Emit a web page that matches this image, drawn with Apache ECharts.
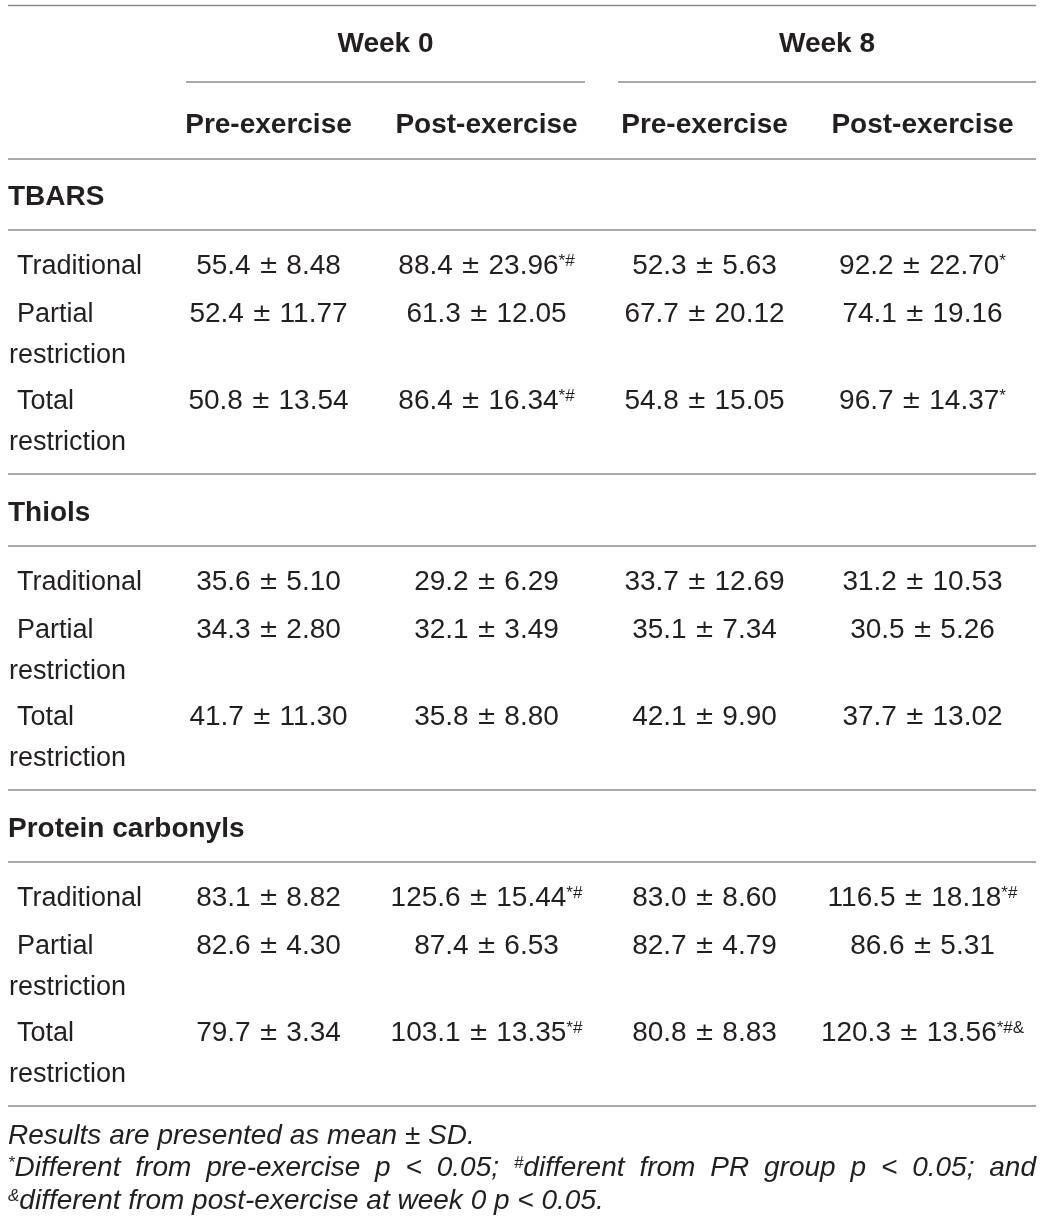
<!DOCTYPE html>
<html>
<head>
<meta charset="utf-8">
<script src="https://cdn.jsdelivr.net/npm/echarts@6/dist/echarts.min.js"></script>
<style>
  html, body { margin: 0; padding: 0; background: #fff; }
  #chart { width: 1044px; height: 1229px; }
</style>
</head>
<body>
<div id="chart"></div>
<script>
// ---- table content ----
const weeks = ['Week 0', 'Week 8'];
const phases = ['Pre-exercise', 'Post-exercise', 'Pre-exercise', 'Post-exercise'];
const columns = ['w0-pre', 'w0-post', 'w8-pre', 'w8-post'];
const markers = ['TBARS', 'Thiols', 'Protein carbonyls'];
const groupLabels = [['Traditional'], ['Partial', 'restriction'], ['Total', 'restriction']];

const tbarsMean = [[55.4, 88.4, 52.3, 92.2], [52.4, 61.3, 67.7, 74.1], [50.8, 86.4, 54.8, 96.7]];
const tbarsSd = [[8.48, 23.96, 5.63, 22.70], [11.77, 12.05, 20.12, 19.16], [13.54, 16.34, 15.05, 14.37]];
const tbarsSig = [['', '*#', '', '*'], ['', '', '', ''], ['', '*#', '', '*']];

const thiolsMean = [[35.6, 29.2, 33.7, 31.2], [34.3, 32.1, 35.1, 30.5], [41.7, 35.8, 42.1, 37.7]];
const thiolsSd = [[5.10, 6.29, 12.69, 10.53], [2.80, 3.49, 7.34, 5.26], [11.30, 8.80, 9.90, 13.02]];
const thiolsSig = [['', '', '', ''], ['', '', '', ''], ['', '', '', '']];

const carbonylsMean = [[83.1, 125.6, 83.0, 116.5], [82.6, 87.4, 82.7, 86.6], [79.7, 103.1, 80.8, 120.3]];
const carbonylsSd = [[8.82, 15.44, 8.60, 18.18], [4.30, 6.53, 4.79, 5.31], [3.34, 13.35, 8.83, 13.56]];
const carbonylsSig = [['', '*#', '', '*#'], ['', '', '', ''], ['', '*#', '', '*#&']];

const footnotes = [
  'Results are presented as mean \u00b1 SD.',
  '*Different from pre-exercise p < 0.05; #different from PR group p < 0.05; and',
  '&different from post-exercise at week 0 p < 0.05.'
];

const blocks = [
  { mean: tbarsMean, sd: tbarsSd, sig: tbarsSig },
  { mean: thiolsMean, sd: thiolsSd, sig: thiolsSig },
  { mean: carbonylsMean, sd: carbonylsSd, sig: carbonylsSig }
];

// ---- layout ----
const W = 1044, H = 1229;
const ruleLeft = 8, ruleRight = 1036;
const weekSpans = [[186, 585], [618, 1036]];
const weekY = 42, weekRuleY = 82, phaseY = 123, headRuleY = 159, topRuleY = 5.5;
const firstGroupY = 195, groupPitch = 316;
const rowOffsets = [69, 117, 204];
const secondLine = 41;
const labelX = 17, labelX2 = 9;
const footY = [1134, 1166, 1199];
const textDy = 2.5; // glyph centre sits a bit below the em middle

const FONT = "'Liberation Sans', Arial, Helvetica, sans-serif";
const PM_FONT = "'DejaVu Sans', sans-serif";
const INK = '#231f20';
const RULE = '#8c8c8c';

// build text cells for the custom series
const cells = [];
phases.forEach((p, i) => cells.push({ col: i, y: phaseY, kind: 'phase', text: p }));
blocks.forEach((b, g) => {
  const gy = firstGroupY + g * groupPitch;
  cells.push({ col: 0, y: gy, kind: 'group', text: markers[g] });
  groupLabels.forEach((lines, r) => {
    const ry = gy + rowOffsets[r];
    lines.forEach((ln, k) => cells.push({ col: 0, y: ry + k * secondLine, kind: 'label', text: ln, first: k === 0 }));
    columns.forEach((c, j) => {
      let t = '{m|' + b.mean[r][j].toFixed(1) + ' }{pm|\u00b1}{m| ' + b.sd[r][j].toFixed(2) + '}';
      if (b.sig[r][j]) t += '{s|' + b.sig[r][j] + '}';
      cells.push({ col: j, y: ry, kind: 'value', text: t });
    });
  });
});

const chart = echarts.init(document.getElementById('chart'));

const valueRich = {
  m: { fontFamily: FONT, fontSize: 28, lineHeight: 28, fill: INK },
  pm: { fontFamily: PM_FONT, fontSize: 24, lineHeight: 28, fill: INK },
  s: { fontFamily: FONT, fontSize: 17, lineHeight: 17, fill: INK, verticalAlign: 'top' }
};

function renderCell(params, api) {
  const c = cells[params.dataIndex];
  const pt = api.coord([api.value(0), api.value(1)]);
  const y = pt[1] + textDy;
  const base = { fontFamily: FONT, fill: INK, verticalAlign: 'middle' };
  if (c.kind === 'phase') {
    return { type: 'text', x: pt[0], y: y, style: Object.assign(base, { text: c.text, fontSize: 28, fontWeight: 'bold', align: 'center' }) };
  }
  if (c.kind === 'group') {
    return { type: 'text', x: ruleLeft, y: y, style: Object.assign(base, { text: c.text, fontSize: 28, fontWeight: 'bold', align: 'left' }) };
  }
  if (c.kind === 'label') {
    return { type: 'text', x: c.first ? labelX : labelX2, y: y, style: Object.assign(base, { text: c.text, fontSize: 27, align: 'left' }) };
  }
  return {
    type: 'text', x: pt[0], y: y,
    style: Object.assign(base, { text: c.text, align: 'center', rich: valueRich })
  };
}

// rules
const graphics = [];
function rule(x1, x2, y) {
  graphics.push({ type: 'line', shape: { x1: x1, y1: y, x2: x2, y2: y }, style: { stroke: RULE, lineWidth: 1.5 }, silent: true });
}
rule(ruleLeft, ruleRight, topRuleY);
weekSpans.forEach(s => rule(s[0], s[1], weekRuleY));
rule(ruleLeft, ruleRight, headRuleY);
markers.forEach((m, g) => {
  const gy = firstGroupY + g * groupPitch;
  rule(ruleLeft, ruleRight, gy + 35);
  rule(ruleLeft, ruleRight, gy + 279);
});
weeks.forEach((w, i) => {
  graphics.push({
    type: 'text', x: (weekSpans[i][0] + weekSpans[i][1]) / 2, y: weekY + textDy,
    style: { text: w, fontFamily: FONT, fontSize: 28, fontWeight: 'bold', fill: INK, align: 'center', verticalAlign: 'middle' }
  });
});

// footnotes (italic, second line justified)
const FN_SIZE = 28, FN_SUP = 17;
const ctx = document.createElement('canvas').getContext('2d');
function splitWord(w) {
  const m = w.match(/^([*#&]*)(.*)$/);
  return { sup: m[1], main: m[2] };
}
function wordWidth(p) {
  ctx.font = 'italic ' + FN_SUP + 'px ' + FONT;
  const a = p.sup ? ctx.measureText(p.sup).width : 0;
  ctx.font = 'italic ' + FN_SIZE + 'px ' + FONT;
  return a + ctx.measureText(p.main).width;
}
function wordText(p) {
  return (p.sup ? '{s|' + p.sup + '}' : '') + '{i|' + p.main + '}';
}
const fnRich = {
  i: { fontFamily: FONT, fontSize: FN_SIZE, fontStyle: 'italic', lineHeight: 27, fill: INK },
  s: { fontFamily: FONT, fontSize: FN_SUP, fontStyle: 'italic', lineHeight: 17, fill: INK, verticalAlign: 'top' }
};
footnotes.forEach((line, li) => {
  const words = line.split(' ').map(splitWord);
  const y = footY[li] + textDy;
  if (li === 1) {
    const widths = words.map(wordWidth);
    const total = widths.reduce((a, b) => a + b, 0);
    const gap = (ruleRight - ruleLeft - total) / (words.length - 1);
    let x = ruleLeft;
    words.forEach((p, k) => {
      graphics.push({ type: 'text', x: x, y: y, style: { text: wordText(p), rich: fnRich, align: 'left', verticalAlign: 'middle' } });
      x += widths[k] + gap;
    });
  } else {
    graphics.push({ type: 'text', x: ruleLeft, y: y, style: { text: words.map(wordText).join('{i| }'), rich: fnRich, align: 'left', verticalAlign: 'middle' } });
  }
});

chart.setOption({
  animation: false,
  backgroundColor: '#fff',
  grid: { left: 159.5, width: 872, top: 0, height: H },
  xAxis: { type: 'category', data: columns, show: false },
  yAxis: { type: 'value', min: 0, max: H, inverse: true, show: false },
  graphic: graphics,
  series: [{
    type: 'custom',
    coordinateSystem: 'cartesian2d',
    data: cells.map(c => [c.col, c.y]),
    renderItem: renderCell,
    clip: false,
    silent: true
  }]
});
</script>
</body>
</html>
